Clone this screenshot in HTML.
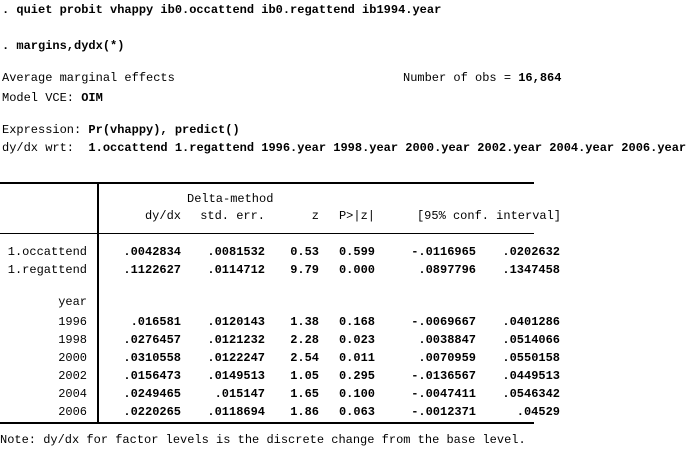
<!DOCTYPE html>
<html><head><meta charset="utf-8">
<style>
body{margin:0;width:697px;height:448px;background:#fff;position:relative;overflow:hidden;font-family:"Liberation Mono","DejaVu Sans Mono",monospace;font-size:12px;color:#000}
.t{position:absolute;white-space:pre;line-height:18px;height:18px}
.r{text-align:right}
b{font-weight:bold}
.ln{position:absolute;background:#000}
</style></head><body>
<div class="t" style="left:2px;top:1px"><b>. quiet probit vhappy ib0.occattend ib0.regattend ib1994.year</b></div>
<div class="t" style="left:2px;top:37px"><b>. margins,dydx(*)</b></div>
<div class="t" style="left:2px;top:69px">Average marginal effects</div>
<div class="t" style="left:403px;top:69px">Number of obs = <b>16,864</b></div>
<div class="t" style="left:2px;top:89px">Model VCE: <b>OIM</b></div>
<div class="t" style="left:2px;top:121px">Expression: <b>Pr(vhappy), predict()</b></div>
<div class="t" style="left:2px;top:139px">dy/dx wrt:  <b>1.occattend 1.regattend 1996.year 1998.year 2000.year 2002.year 2004.year 2006.year</b></div>

<div class="ln" style="left:0;top:182px;width:534px;height:2px"></div>
<div class="ln" style="left:0;top:233px;width:534px;height:1px"></div>
<div class="ln" style="left:0;top:422px;width:534px;height:2px"></div>
<div class="ln" style="left:97px;top:182px;width:2px;height:242px"></div>

<div class="t" style="left:187px;top:190px">Delta-method</div>
<div class="t" style="left:2px;top:207px;width:559px"><span class="t r" style="left:0;width:179px">dy/dx</span><span class="t r" style="left:0;width:263px">std. err.</span><span class="t r" style="left:0;width:317px">z</span><span class="t r" style="left:0;width:373px">P&gt;|z|</span><span class="t r" style="left:0;width:559px">[95% conf. interval]</span></div>

<div class="t" style="left:0;top:431px">Note: dy/dx for factor levels is the discrete change from the base level.</div>

<script>
const labels=["1.occattend","1.regattend","year","1996","1998","2000","2002","2004","2006"];
const ycent=[252,270,302,322,340,358,376,394,412];
const dydx=[".0042834",".1122627","",".016581",".0276457",".0310558",".0156473",".0249465",".0220265"];
const se=[".0081532",".0114712","",".0120143",".0121232",".0122247",".0149513",".015147",".0118694"];
const zv=["0.53","9.79","","1.38","2.28","2.54","1.05","1.65","1.86"];
const pv=["0.599","0.000","","0.168","0.023","0.011","0.295","0.100","0.063"];
const lo=["-.0116965",".0897796","","-.0069667",".0038847",".0070959","-.0136567","-.0047411","-.0012371"];
const hi=[".0202632",".1347458","",".0401286",".0514066",".0550158",".0449513",".0546342",".04529"];
const cols=[[dydx,181],[se,265],[zv,319],[pv,375],[lo,476],[hi,560]];
const host=document.body;
labels.forEach((lab,i)=>{
  const top=ycent[i]-9;
  const l=document.createElement('div');
  l.className='t r';
  l.style.cssText=`left:0;width:87px;top:${top}px`;
  l.textContent=lab;
  
  
  host.appendChild(l);
  cols.forEach(([arr,right])=>{
    if(!arr[i])return;
    const c=document.createElement('div');
    c.className='t r';
    c.style.cssText=`left:0;width:${right}px;top:${top}px;font-weight:bold`;
    c.textContent=arr[i];
    
    
    host.appendChild(c);
  });
});
</script>
</body></html>
